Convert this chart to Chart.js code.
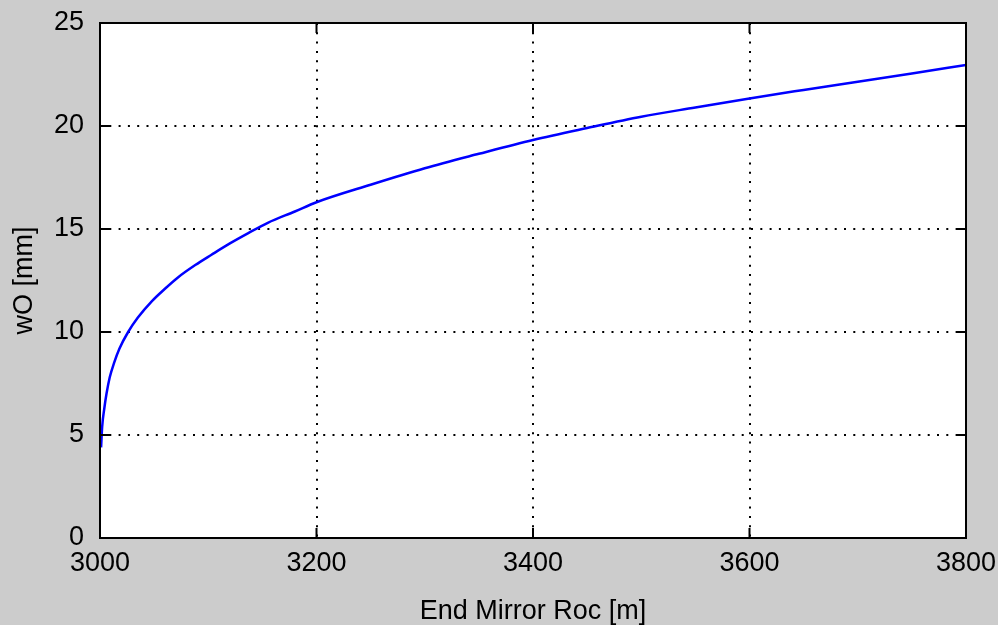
<!DOCTYPE html>
<html>
<head>
<meta charset="utf-8">
<script src="https://cdn.jsdelivr.net/npm/chart.js@4"></script>
<style>
  html, body { margin: 0; padding: 0; background: #cccccc; }
  #wrap { width: 998px; height: 625px; }
</style>
</head>
<body>
<div id="wrap"><canvas id="grafico"></canvas></div>
<script>
// values
const roc = [3001, 3002, 3004, 3006, 3009, 3013, 3018, 3026, 3035, 3048, 3060, 3072, 3088, 3103,
  3120, 3137, 3155, 3180, 3200, 3250, 3300, 3350, 3400, 3450, 3500, 3550, 3600, 3650, 3700, 3750, 3800];
const w0 = [4.4, 5.4, 6.3, 7.0, 7.8, 8.5, 9.2, 10.0, 10.7, 11.5, 12.1, 12.65, 13.25, 13.75,
  14.3, 14.8, 15.3, 15.85, 16.3, 17.15, 17.95, 18.65, 19.32, 19.9, 20.45, 20.9, 21.34, 21.75, 22.15, 22.55, 22.96];
const xTicks = [3000, 3200, 3400, 3600, 3800];
const yTicks = [0, 5, 10, 15, 20, 25];

const ctx = document.getElementById('grafico');
const fnt = { family: "'Liberation Sans', Arial, sans-serif", size: 27, lineHeight: 1 };

// grey figure, white axes, black box with inward ticks (matlab style)
const boxPlugin = {
  id: 'box',
  beforeDraw(chart) {
    const c = chart.ctx, a = chart.chartArea;
    c.save();
    c.fillStyle = '#cccccc';
    c.fillRect(0, 0, chart.width, chart.height);
    c.fillStyle = '#ffffff';
    c.fillRect(a.left, a.top, a.right - a.left, a.bottom - a.top);
    c.restore();
  },
  afterDraw(chart) {
    const c = chart.ctx, a = chart.chartArea;
    const xs = chart.scales.x, ys = chart.scales.y;
    c.save();
    c.strokeStyle = '#000';
    c.lineWidth = 2;
    c.strokeRect(a.left, a.top, a.right - a.left, a.bottom - a.top);
    c.beginPath();
    xTicks.forEach(v => {
      const p = xs.getPixelForValue(v);
      c.moveTo(p, a.bottom); c.lineTo(p, a.bottom - 10);
      c.moveTo(p, a.top); c.lineTo(p, a.top + 10);
    });
    yTicks.forEach(v => {
      const p = ys.getPixelForValue(v);
      c.moveTo(a.left, p); c.lineTo(a.left + 10, p);
      c.moveTo(a.right, p); c.lineTo(a.right - 10, p);
    });
    c.stroke();
    c.restore();
  }
};

new Chart(ctx, {
  type: 'line',
  data: {
    datasets: [{
      data: roc.map((r, i) => ({ x: r, y: w0[i] })),
      borderColor: '#0000ff',
      borderWidth: 2.5,
      pointRadius: 0,
      cubicInterpolationMode: 'monotone',
      fill: false
    }]
  },
  options: {
    responsive: true,
    maintainAspectRatio: false,
    animation: false,
    layout: { padding: { top: 23, right: 32, left: 0, bottom: 0 } },
    plugins: { legend: { display: false }, tooltip: { enabled: false } },
    scales: {
      x: {
        type: 'linear',
        min: 3000, max: 3800,
        afterBuildTicks: s => { s.ticks = xTicks.map(v => ({ value: v })); },
        afterFit: s => { s.height = 87; s.paddingLeft = 0; s.paddingRight = 0; },
        ticks: { color: '#000', font: fnt, padding: 12, maxRotation: 0, callback: v => String(v) },
        grid: { color: '#000', lineWidth: 2, drawTicks: false },
        border: { display: false, dash: [2, 7.3] },
        title: { display: true, text: 'End Mirror Roc [m]', color: '#000', font: fnt, padding: 0 }
      },
      y: {
        min: 0, max: 25,
        afterBuildTicks: s => { s.ticks = yTicks.map(v => ({ value: v })); },
        afterFit: s => { s.width = 100; s.paddingTop = 0; s.paddingBottom = 0; },
        ticks: { color: '#000', font: fnt, padding: 16, callback: v => String(v) },
        grid: { color: '#000', lineWidth: 2, drawTicks: false },
        border: { display: false, dash: [2, 7.3] },
        title: { display: true, text: 'wO [mm]', color: '#000', font: fnt, padding: { top: 11, bottom: 0 } }
      }
    }
  },
  plugins: [boxPlugin]
});
</script>
</body>
</html>
